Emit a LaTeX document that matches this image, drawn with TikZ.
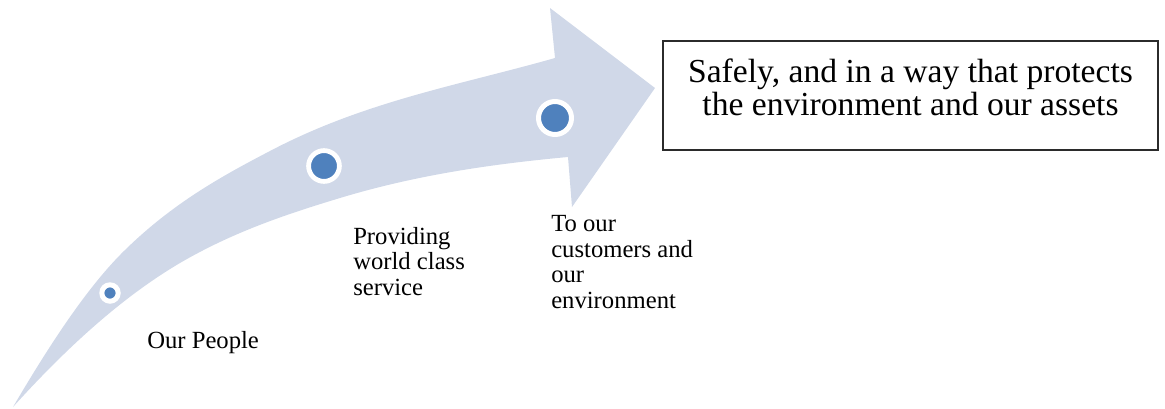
\documentclass[tikz,border=0pt]{standalone}
\usepackage{fontspec}
\setmainfont{Liberation Serif}
\usetikzlibrary{fit}
\definecolor{bandfill}{HTML}{D0D8E8}
\definecolor{dotblue}{HTML}{4F81BD}
\definecolor{boxline}{HTML}{2B2B2B}
\begin{document}
\begin{tikzpicture}[x=0.75pt,y=-0.75pt,
  band/.style={fill=bandfill},
  milestone/.style={circle, fill=dotblue, draw=white, inner sep=0pt},
  caption/.style={anchor=base west, align=left, inner sep=0pt,
    font=\fontsize{18.5pt}{19.1pt}\selectfont},
  goal/.style={anchor=base, align=center, inner sep=0pt,
    font=\fontsize{25.2pt}{24.75pt}\selectfont},
  goalframe/.style={draw=boxline, line width=1.4pt, inner sep=0pt},
]
\useasboundingbox (0,0) rectangle (1165,408);

% curved arrow band (the base-anchor of a multi-line node sits on its last line)
\fill[band] (13,407)
  .. controls (50,344) and (88,286) .. (125,250)
  .. controls (173,203) and (222,176) .. (270,151)
  .. controls (365,101) and (460,85) .. (555,58)
  -- (550,8) -- (655,88) -- (572,207) -- (568,157)
  .. controls (492,164) and (416,175) .. (340,198)
  .. controls (287,214) and (233,232) .. (180,263)
  .. controls (124,296) and (69,345) .. (13,407)
  -- cycle;

% milestones along the band
\node (m1) [milestone, minimum size=12.3pt, line width=3.75pt] at (110,293) {};
\node (m2) [milestone, minimum size=23.1pt, line width=3.6pt] at (324,166) {};
\node (m3) [milestone, minimum size=24.75pt, line width=3.75pt] at (555,118) {};

% captions
\node (c1) [caption] at (147,348) {Our People};
\node (c2) [caption] at (353,295) {Providing\\world class\\service};
\node (c3) [caption] at (551,308) {To our\\customers and\\our\\environment};

% goal statement
\node (goalbox) [goalframe, fit={(663,41) (1158,150)}] {};
\node (goal) [goal] at (910.5,115) {Safely, and in a way that protects\\the environment and our assets};
\end{tikzpicture}
\end{document}
